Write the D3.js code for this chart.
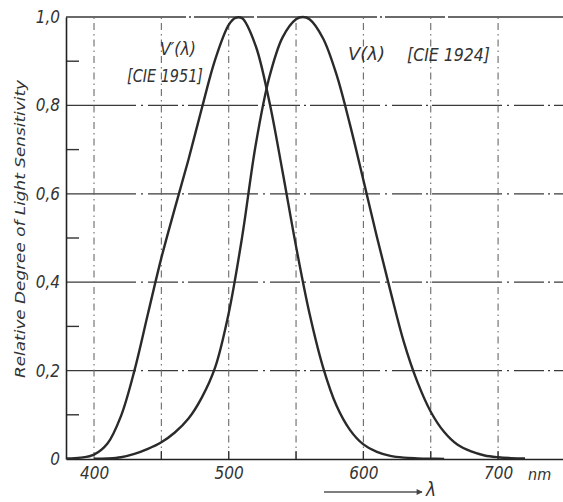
<!DOCTYPE html>
<html>
<head>
<meta charset="utf-8">
<script src="https://cdn.jsdelivr.net/npm/d3@7"></script>
<style>
  html, body { margin: 0; padding: 0; background: #fff; }
  svg { display: block; }
  text { font-family: "Liberation Sans Narrow", "DejaVu Sans Condensed", "Liberation Sans", sans-serif; font-style: italic; fill: #333; }
</style>
</head>
<body>
<svg id="chart" width="563" height="502"></svg>
<script>
// ---- data ----
const scotopicWl  = [380, 390, 400, 410, 420, 430, 440, 450, 460, 470, 480, 490, 500, 505, 510, 520, 530, 540, 550, 560, 570, 580, 590, 600, 610, 620, 630, 640, 650, 660];
const scotopicVal = [0.001, 0.003, 0.01, 0.035, 0.097, 0.200, 0.328, 0.455, 0.567, 0.676, 0.793, 0.904, 0.982, 0.998, 0.997, 0.935, 0.811, 0.650, 0.481, 0.329, 0.208, 0.121, 0.066, 0.033, 0.016, 0.007, 0.003, 0.0015, 0.0007, 0.0003];
const photopicWl  = [400, 410, 420, 430, 440, 450, 460, 470, 480, 490, 500, 510, 520, 530, 540, 550, 555, 560, 570, 580, 590, 600, 610, 620, 630, 640, 650, 660, 670, 680, 690, 700, 710, 720];
const photopicVal = [0.0004, 0.0012, 0.004, 0.0116, 0.023, 0.038, 0.060, 0.091, 0.139, 0.208, 0.330, 0.503, 0.710, 0.862, 0.954, 0.995, 1.000, 0.995, 0.952, 0.870, 0.757, 0.631, 0.503, 0.381, 0.265, 0.175, 0.107, 0.061, 0.032, 0.017, 0.008, 0.004, 0.002, 0.001];
const xTickValues = [400, 500, 600, 700];
const xTickLabels = ["400", "500", "600", "700"];
const xGridValues = [400, 450, 500, 550, 600, 650, 700];
const yTickValues = [0, 0.2, 0.4, 0.6, 0.8, 1.0];
const yTickLabels = ["0", "0,2", "0,4", "0,6", "0,8", "1,0"];
const yMinorValues = [0.1, 0.3, 0.5, 0.7, 0.9];
const xMinorValues = [450, 500, 550, 600, 650, 700];
const yTitle = "Relative Degree of Light Sensitivity";
const unitLabel = "nm";
const lambdaLabel = "λ";
const scotLabel1 = "V′(λ)";
const scotLabel2 = "[CIE 1951]";
const photLabel1 = "V(λ)";
const photLabel2 = "[CIE 1924]";

// ---- layout ----
const svg = d3.select("#chart");
const mLeft = 66, mBottom = 459, mTop = 17, mRight = 563;
const x = d3.scaleLinear().domain([379.2, 748.2]).range([mLeft, mRight]);
const y = d3.scaleLinear().domain([0, 1]).range([mBottom, mTop]);
const fontFam = "'Liberation Sans Narrow','DejaVu Sans Condensed',sans-serif";

// grid: horizontal
const hg = svg.append("g");
hg.selectAll("line").data(yTickValues.filter(v => v > 0)).enter().append("line")
  .attr("x1", mLeft).attr("x2", mRight)
  .attr("y1", d => y(d)).attr("y2", d => y(d))
  .attr("stroke", "#3a3a3a").attr("stroke-width", 1.3)
  .attr("stroke-dasharray", d => d === 1 ? "120,3,2,3,60,3" : "70,5,2,5,30,4,2,4");

// grid: vertical
const vg = svg.append("g");
vg.selectAll("line").data(xGridValues).enter().append("line")
  .attr("x1", d => x(d)).attr("x2", d => x(d))
  .attr("y1", mBottom).attr("y2", mTop)
  .attr("stroke", "#6a6a6a").attr("stroke-width", 1.1)
  .attr("stroke-dasharray", "7,4,1.5,4");

// minor ticks
svg.append("g").selectAll("line").data(yMinorValues).enter().append("line")
  .attr("x1", mLeft).attr("x2", mLeft + 13)
  .attr("y1", d => y(d)).attr("y2", d => y(d))
  .attr("stroke", "#333").attr("stroke-width", 1.4);
svg.append("g").selectAll("line").data(xMinorValues).enter().append("line")
  .attr("x1", d => x(d)).attr("x2", d => x(d))
  .attr("y1", mBottom).attr("y2", mBottom - 8)
  .attr("stroke", "#333").attr("stroke-width", 1.3);

// axes
const yAxis = d3.axisLeft(y).tickValues(yTickValues).tickSize(0).tickPadding(6)
  .tickFormat((d, i) => yTickLabels[i]);
const gy = svg.append("g").attr("transform", `translate(${mLeft},0)`).call(yAxis);
gy.select(".domain").attr("stroke", "#222").attr("stroke-width", 1.6);
gy.selectAll("text").attr("font-size", 17).attr("fill", "#333")
  .style("font-family", fontFam).style("font-style", "italic");

const xAxis = d3.axisBottom(x).tickValues(xTickValues).tickSize(0).tickPadding(8)
  .tickFormat((d, i) => xTickLabels[i]);
const gx = svg.append("g").attr("transform", `translate(0,${mBottom})`).call(xAxis);
gx.select(".domain").attr("stroke", "#222").attr("stroke-width", 1.6);
gx.selectAll("text").attr("font-size", 17).attr("fill", "#333")
  .style("font-family", fontFam).style("font-style", "italic");

// curves
const line = d3.line().x(d => x(d[0])).y(d => y(d[1])).curve(d3.curveCatmullRom.alpha(0.5));
svg.append("path").datum(scotopicWl.map((w, i) => [w, scotopicVal[i]]))
  .attr("d", line).attr("fill", "none").attr("stroke", "#2a2a2a").attr("stroke-width", 2.4);
svg.append("path").datum(photopicWl.map((w, i) => [w, photopicVal[i]]))
  .attr("d", line).attr("fill", "none").attr("stroke", "#2a2a2a").attr("stroke-width", 2.4);

// labels
svg.append("text").attr("x", 160).attr("y", 55).attr("font-size", 18)
  .attr("textLength", 36).attr("lengthAdjust", "spacingAndGlyphs").text(scotLabel1);
svg.append("text").attr("x", 127).attr("y", 82).attr("font-size", 17)
  .attr("textLength", 76).attr("lengthAdjust", "spacingAndGlyphs").text(scotLabel2);
svg.append("text").attr("x", 348).attr("y", 60).attr("font-size", 17)
  .attr("textLength", 37).attr("lengthAdjust", "spacingAndGlyphs").text(photLabel1);
svg.append("text").attr("x", 407).attr("y", 61).attr("font-size", 17)
  .attr("textLength", 83).attr("lengthAdjust", "spacingAndGlyphs").text(photLabel2);

// y title
svg.append("text").attr("transform", "translate(25,229) rotate(-90)")
  .attr("text-anchor", "middle").attr("font-size", 14).attr("fill", "#555")
  .attr("textLength", 298).attr("lengthAdjust", "spacingAndGlyphs").text(yTitle);

// unit
svg.append("text").attr("x", 528).attr("y", 480).attr("font-size", 16).text(unitLabel);

// lambda arrow
svg.append("defs").append("marker").attr("id", "ah").attr("viewBox", "0 0 10 10")
  .attr("refX", 9).attr("refY", 5).attr("markerWidth", 10).attr("markerHeight", 6)
  .attr("orient", "auto").attr("markerUnits", "userSpaceOnUse")
  .append("path").attr("d", "M0,0 L10,5 L0,10 Z").attr("fill", "#444");
svg.append("line").attr("x1", 324).attr("x2", 422).attr("y1", 492).attr("y2", 492)
  .attr("stroke", "#555").attr("stroke-width", 1.6).attr("marker-end", "url(#ah)");
svg.append("text").attr("x", 426).attr("y", 496).attr("font-size", 19).text(lambdaLabel);
</script>
</body>
</html>
